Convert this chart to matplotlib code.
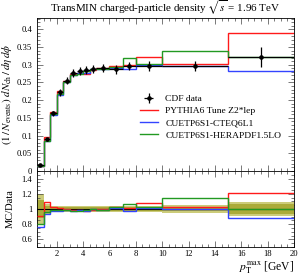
import numpy as np
import matplotlib
matplotlib.use("Agg")
import matplotlib.pyplot as plt
from matplotlib.ticker import MultipleLocator, FuncFormatter

plt.rcParams['font.family'] = ['Liberation Serif', 'DejaVu Serif']
plt.rcParams['mathtext.fontset'] = 'stix'

# ---- data ----
edges = [0.5, 1.0, 1.5, 2.0, 2.5, 3.0, 3.5, 4.0, 4.5, 5.0, 6.0, 7.0, 8.0, 10.0, 15.0, 20.0]
cdf_data = [0.017, 0.089, 0.163, 0.222, 0.255, 0.276, 0.281, 0.284, 0.288, 0.291,
            0.287, 0.297, 0.297, 0.297, 0.322]
cdf_relerr_tot = [0.20, 0.06, 0.045, 0.04, 0.04, 0.04, 0.04, 0.04, 0.04, 0.04,
                  0.042, 0.04, 0.045, 0.05, 0.088]
cdf_relerr_stat = [0.12, 0.035, 0.025, 0.022, 0.022, 0.022, 0.022, 0.022, 0.022, 0.022,
                   0.025, 0.025, 0.028, 0.03, 0.06]
pythia_z2lep = [0.0155, 0.097, 0.168, 0.226, 0.255, 0.273, 0.278, 0.275, 0.285, 0.291,
                0.296, 0.300, 0.321, 0.303, 0.390]
cuetp6s1_cteq6l1 = [0.0129, 0.0837, 0.158, 0.215, 0.250, 0.270, 0.278, 0.278, 0.288, 0.288,
                    0.290, 0.288, 0.300, 0.297, 0.283]
cuetp6s1_herapdf = [0.0136, 0.0854, 0.161, 0.218, 0.250, 0.270, 0.275, 0.281, 0.288, 0.288,
                    0.293, 0.318, 0.303, 0.339, 0.322]
labels = ["CDF data", "PYTHIA6 Tune Z2*lep", "CUETP6S1-CTEQ6L1", "CUETP6S1-HERAPDF1.5LO"]
colors = ["black", "#ff1a1a", "#3344ff", "#229922"]

edges_a = np.array(edges)
data_a = np.array(cdf_data)
centers = 0.5 * (edges_a[:-1] + edges_a[1:])
halfw = 0.5 * (edges_a[1:] - edges_a[:-1])
err_tot = data_a * np.array(cdf_relerr_tot)

W, H = 304, 274
fig = plt.figure(figsize=(W / 100, H / 100), dpi=100)
L, R = 37 / W, 294 / W
ax = fig.add_axes([L, (H - 171) / H, R - L, 153 / H])
axr = fig.add_axes([L, (H - 247) / H, R - L, 76 / H], sharex=ax)

mcs = [pythia_z2lep, cuetp6s1_cteq6l1, cuetp6s1_herapdf]
for vals, c, lab in zip(mcs, colors[1:], labels[1:]):
    ax.stairs(vals, edges, color=c, lw=1.0, baseline=None, label=lab, zorder=3)

ax.errorbar(centers, cdf_data, xerr=halfw, yerr=err_tot, fmt='o', color='black',
            ms=2.3, lw=0.9, capsize=0, label=labels[0], zorder=5)

ax.set_xlim(0.5, 20)
ax.set_ylim(0, 0.432)
ax.yaxis.set_major_locator(MultipleLocator(0.05))
ax.yaxis.set_minor_locator(MultipleLocator(0.01))
ax.yaxis.set_major_formatter(FuncFormatter(lambda v, p: "%g" % round(v, 3)))
ax.tick_params(labelbottom=False)

h, l = ax.get_legend_handles_labels()
order = [l.index(x) for x in labels]
ax.legend([h[i] for i in order], [l[i] for i in order], loc='upper left',
          bbox_to_anchor=(0.40, 0.50), frameon=False, fontsize=6.8,
          handlelength=1.9, handletextpad=0.8, labelspacing=0.38, borderpad=0,
          borderaxespad=0)

ax.set_title(r"TransMIN charged-particle density $\sqrt{s}$ = 1.96 TeV", fontsize=7.9, pad=4)
ax.set_ylabel(r"$(1\,/\,N_\mathrm{events})\ dN_\mathrm{ch}\,/\,d\eta\,d\phi$", fontsize=7.9)
ax.yaxis.set_label_coords(-0.088, 0.5)

# ratio panel
rel_tot = np.array(cdf_relerr_tot)
rel_stat = np.array(cdf_relerr_stat)
axr.stairs(1 + rel_tot, edges, baseline=1 - rel_tot, fill=True, color='#cccc7a', lw=0, zorder=1)
axr.stairs(1 + rel_stat, edges, baseline=1 - rel_stat, fill=True, color='#abab3a', lw=0, zorder=2)
axr.axhline(1.0, color='black', lw=0.8, zorder=3)
for vals, c in zip(mcs, colors[1:]):
    axr.stairs(np.array(vals) / data_a, edges, color=c, lw=1.0, baseline=None, zorder=4)

axr.set_ylim(0.5, 1.5)
axr.yaxis.set_major_locator(MultipleLocator(0.2))
axr.yaxis.set_minor_locator(MultipleLocator(0.05))
axr.yaxis.set_major_formatter(FuncFormatter(lambda v, p: "%g" % round(v, 3)))
axr.xaxis.set_major_locator(MultipleLocator(2))
axr.xaxis.set_minor_locator(MultipleLocator(0.5))
axr.set_ylabel("MC/Data", fontsize=7.6)
axr.yaxis.set_label_coords(-0.088, 0.5)
axr.set_xlabel(r"$p_\mathrm{T}^\mathrm{max}$ [GeV]", fontsize=8.3, ha='right')
axr.xaxis.set_label_coords(1.0, -0.16)

for a in (ax, axr):
    a.tick_params(which='both', direction='in', top=True, right=True, labelsize=6.2,
                  width=0.5, color='#444444')
    a.tick_params(which='major', length=4.5)
    a.tick_params(which='minor', length=2.2)
    for s in a.spines.values():
        s.set_linewidth(0.6)
axr.tick_params(axis='x', pad=2.5)
ax.xaxis.set_minor_locator(MultipleLocator(0.5))
ax.xaxis.set_major_locator(MultipleLocator(2))

fig.savefig("out.png", dpi=100)
